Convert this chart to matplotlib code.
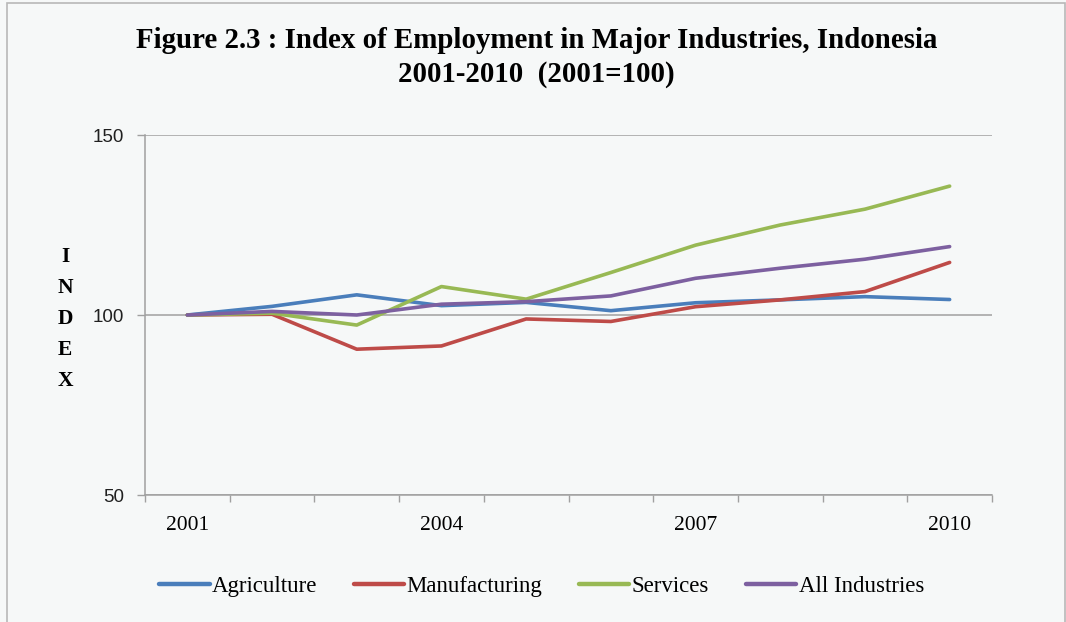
import matplotlib
matplotlib.use("Agg")
import matplotlib.pyplot as plt
from matplotlib.patches import Rectangle

# Employment index, 2001 = 100
years = [2001, 2002, 2003, 2004, 2005, 2006, 2007, 2008, 2009, 2010]
agriculture = [100, 102.4, 105.6, 102.6, 103.5, 101.2, 103.4, 104.2, 105.1, 104.3]
manufacturing = [100, 100.2, 90.5, 91.4, 98.9, 98.2, 102.3, 104.2, 106.5, 114.6]
services = [100, 100.5, 97.2, 107.9, 104.4, 111.8, 119.4, 125.0, 129.4, 135.8]
all_industries = [100, 101.0, 100.0, 103.0, 103.7, 105.3, 110.2, 113.0, 115.5, 119.0]

series_names = ["Agriculture", "Manufacturing", "Services", "All Industries"]
series_colors = ["#4A7EBB", "#BE4B48", "#98B954", "#7D60A0"]
year_labels = ["2001", "2004", "2007", "2010"]

bg = "#F6F8F8"
axis_grey = "#A0A0A0"
serif = "Liberation Serif"

fig = plt.figure(figsize=(10.66, 6.22), dpi=100, facecolor=bg)
fig.patches.append(Rectangle((7 / 1066, -0.01), 1058 / 1066, 1 - 3 / 622 + 0.01,
                             transform=fig.transFigure, fill=False,
                             edgecolor="#B8B8B8", linewidth=1.2))

ax = fig.add_axes([145 / 1066, 1 - 495 / 622, 847 / 1066, 360 / 622])
ax.set_facecolor(bg)

x = list(range(len(years)))
for vals, name, col in zip([agriculture, manufacturing, services, all_industries],
                           series_names, series_colors):
    ax.plot(x, vals, color=col, linewidth=2.6, label=name, solid_capstyle="round")

ax.set_xlim(-0.5, len(years) - 0.5)
ax.set_ylim(50, 150)

# category boundaries get the tick marks, labels sit on every third year
ax.set_xticks([i - 0.5 for i in range(len(years) + 1)])
ax.set_xticklabels([])
ax.set_xticks([years.index(int(y)) for y in year_labels], minor=True)
ax.set_xticklabels(year_labels, minor=True, fontfamily=serif, fontsize=15.5)
ax.tick_params(axis="x", which="major", direction="out", length=5, width=1, color=axis_grey)
ax.tick_params(axis="x", which="minor", length=0, pad=15)

ax.set_yticks([50, 100, 150])
ax.set_yticklabels(["50", "100", "150"], fontfamily="Liberation Sans", fontsize=13.5,
                   color="#202020")
ax.tick_params(axis="y", direction="out", length=6, width=1, color=axis_grey, pad=9)

ax.grid(axis="y", color=axis_grey, linewidth=1.1)
ax.set_axisbelow(True)
for side in ["top", "right"]:
    ax.spines[side].set_visible(False)
for side in ["left", "bottom"]:
    ax.spines[side].set_color(axis_grey)
    ax.spines[side].set_linewidth(1.1)

fig.text(65 / 1066, 1 - 319 / 622, "I\nN\nD\nE\nX", ha="center", va="center",
         fontfamily=serif, fontweight="bold", fontsize=15.5, linespacing=1.72)

fig.text(0.503, 1 - 40 / 622, "Figure 2.3 : Index of Employment in Major Industries, Indonesia",
         ha="center", va="center", fontfamily=serif, fontweight="bold", fontsize=20.8)
fig.text(0.503, 1 - 75 / 622, "2001-2010  (2001=100)",
         ha="center", va="center", fontfamily=serif, fontweight="bold", fontsize=20.8)

leg = fig.legend(loc="center", bbox_to_anchor=(0.508, 1 - 586 / 622), ncol=4,
                 frameon=False, handlelength=2.2, handletextpad=0.1, columnspacing=1.6,
                 prop={"family": serif, "size": 16.5})
for line in leg.get_lines():
    line.set_linewidth(3.2)

fig.savefig("out.png", dpi=100, facecolor=bg)
